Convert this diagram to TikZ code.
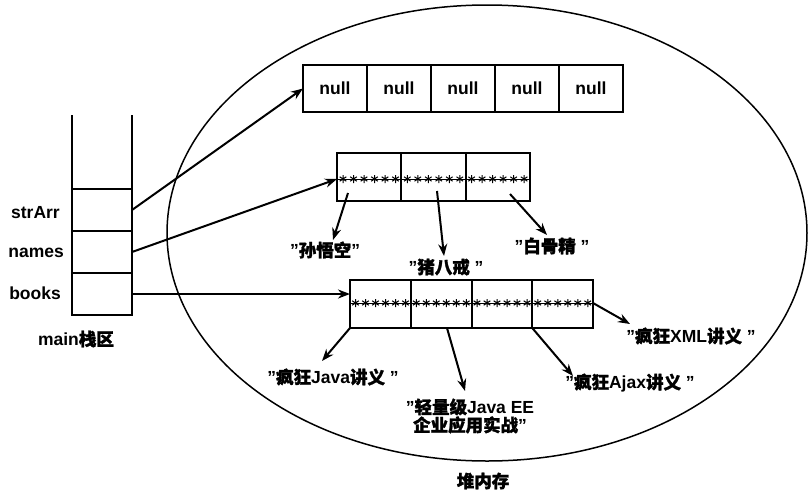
\documentclass[tikz,border=0pt]{standalone}
\usepackage{fontspec}
\setmainfont{Liberation Sans}
\newfontfamily\cjk{Noto Sans CJK SC}[FakeBold=1.5]
\usetikzlibrary{arrows.meta}
\begin{document}
\begin{tikzpicture}[x=1pt,y=-1pt,
  txt/.style={font=\bfseries\fontsize{17.5}{20}\selectfont,inner sep=0pt},
  stk/.style={draw,line width=2.8pt,minimum width=60pt,minimum height=42pt,inner sep=0pt,outer sep=0pt,anchor=north west},
  cell/.style={draw,line width=2pt,minimum height=47pt,inner sep=0pt,outer sep=0pt,anchor=north west},
  arr/.style={line width=2pt,-{Stealth[length=12pt,width=9pt]}},
  star/.style={line width=1pt}]
\useasboundingbox (0,0) rectangle (812,491);
% heap ellipse
\draw[line width=1.5pt] (487,233) ellipse [x radius=320, y radius=228];
% stack
\node[stk] (sA) at (72,189) {};
\node[stk] (nm) at (72,231) {};
\node[stk] (bk) at (72,273) {};
\draw[line width=2.8pt] (sA.north west) -- ++(0,-74);
\draw[line width=2.8pt] (sA.north east) -- ++(0,-74);
\node[txt,anchor=east] (lsA) at (60,213) {strArr};
\node[txt,anchor=east] (lnm) at (64,253) {names};
\node[txt,anchor=east] (lbk) at (61,293) {books};
\node[txt] (lmain) at (76,339) {main{\cjk 栈区}};
% null array
\foreach \i in {0,...,4}{
  \node[cell,minimum width=64pt,txt,draw,line width=2pt,minimum height=47pt,anchor=north west] (n\i) at (303+64*\i,65) {null};
}
% names array
\foreach \i in {0,...,2}{
  \node[cell,minimum width=64.3pt,minimum height=48pt] (a\i) at (337+64.3*\i,153) {};
  \draw[line width=0.8pt] (a\i.west |- 0,179) -- (a\i.east |- 0,179);
  \foreach \k in {0,...,5}{
    \draw[star] (337+64.3*\i+6+10.5*\k,179) +(0,-4)--+(0,4) +(-3.3,-2.2)--+(3.3,2.2) +(-3.3,2.2)--+(3.3,-2.2);
  }
}
% books array
\foreach \i in {0,...,3}{
  \node[cell,minimum width=60.75pt,minimum height=48pt] (b\i) at (350+60.75*\i,280) {};
  \draw[line width=0.8pt] (b\i.west |- 0,303) -- (b\i.east |- 0,303);
  \foreach \k in {0,...,5}{
    \draw[star] (350+60.75*\i+5.5+10*\k,303) +(0,-4)--+(0,4) +(-3.3,-2.2)--+(3.3,2.2) +(-3.3,2.2)--+(3.3,-2.2);
  }
}
% labels in heap
\node[txt] (s1) at (325,250) {"{\cjk 孙悟空}"};
\node[txt] (s2) at (446,267) {"{\cjk 猪八戒} "};
\node[txt] (s3) at (552,246) {"{\cjk 白骨精} "};
\node[txt] (t1) at (333,377) {"{\cjk 疯狂}Java{\cjk 讲义} "};
\node[txt,align=center] (t2) at (470,416) {"{\cjk 轻量级}Java EE\\[-2pt]{\cjk 企业应用实战}"};
\node[txt] (t3) at (630,383) {"{\cjk 疯狂}Ajax{\cjk 讲义} "};
\node[txt] (t4) at (691,336) {"{\cjk 疯狂}XML{\cjk 讲义} "};
\node[txt] (heap) at (483,481) {\cjk 堆内存};
% stack references
\draw[arr] (sA.east) -- (n0.west);
\coordinate (nmIn) at (a0.west |- 0,179);
\draw[arr] (nm.east) -- (nmIn);
\coordinate (bkIn) at (b0.west |- 0,294);
\draw[arr] (bk.east |- 0,294) -- (bkIn);
% names elements
\coordinate (e1) at (348,193); \coordinate (f1) at (333,240);
\coordinate (e2) at (437,191); \coordinate (f2) at (444,256);
\coordinate (e3) at (510,194); \coordinate (f3) at (547,235);
\draw[arr] (e1) -- (f1);
\draw[arr] (e2) -- (f2);
\draw[arr] (e3) -- (f3);
% books elements
\coordinate (g1) at (b0.south west); \coordinate (h1) at (322,361);
\coordinate (g2) at (447,328); \coordinate (h2) at (465,391);
\coordinate (g3) at (b3.south west); \coordinate (h3) at (573,376);
\coordinate (g4) at (b3.east |- 0,303); \coordinate (h4) at (630,324);
\draw[arr] (g1) -- (h1);
\draw[arr] (g2) -- (h2);
\draw[arr] (g3) -- (h3);
\draw[arr] (g4) -- (h4);
\end{tikzpicture}
\end{document}
